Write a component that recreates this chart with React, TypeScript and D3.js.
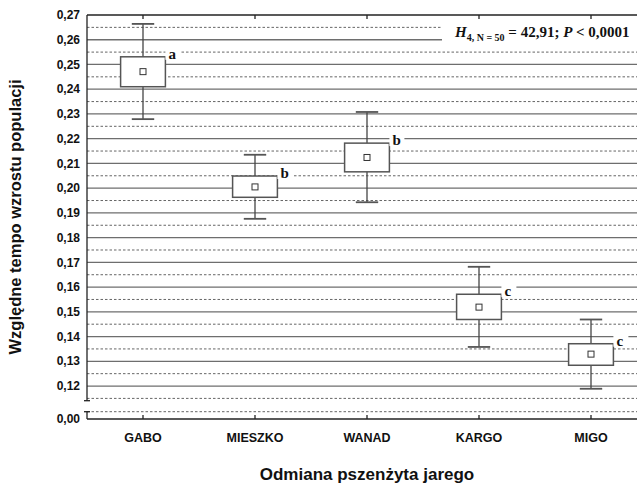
import * as d3 from 'd3';
import { useEffect, useRef } from 'react';

// varieties and box statistics (mean, box = mean ± SE, whiskers = mean ± SD)
const categories = ['GABO', 'MIESZKO', 'WANAD', 'KARGO', 'MIGO'];
const means = [0.2471, 0.2005, 0.2124, 0.1519, 0.1329];
const boxLow = [0.2410, 0.1963, 0.2066, 0.1469, 0.1284];
const boxHigh = [0.2531, 0.2049, 0.2182, 0.1571, 0.1371];
const whiskerLow = [0.2279, 0.1876, 0.1943, 0.1358, 0.1189];
const whiskerHigh = [0.2664, 0.2135, 0.2308, 0.1682, 0.1469];
const groups = ['a', 'b', 'b', 'c', 'c'];

const upperTicks = [0.12, 0.13, 0.14, 0.15, 0.16, 0.17, 0.18, 0.19, 0.2, 0.21, 0.22, 0.23, 0.24, 0.25, 0.26, 0.27];
const halfTicks = [0.115, 0.125, 0.135, 0.145, 0.155, 0.165, 0.175, 0.185, 0.195, 0.205, 0.215, 0.225, 0.235, 0.245, 0.255, 0.265];

function App() {
  const svgRef = useRef<SVGSVGElement>(null);

  useEffect(() => {
    const w = 637;
    const h = 484;
    const left = 87;
    const right = 647; // plot runs past the picture edge, as in the original
    const top = 15;
    const breakY = 400.7;
    const lowTop = 411.7;
    const bottom = 419;

    const svg = d3.select(svgRef.current);
    svg.selectAll('*').remove();
    svg.attr('width', w).attr('height', h);

    svg.append('rect').attr('width', w).attr('height', h).attr('fill', '#fff');

    const x = d3.scaleBand().domain(categories).range([left, right]);
    const y = d3.scaleLinear().domain([0.115, 0.27]).range([398.4, top]);
    const yLow = d3.scaleLinear().domain([0, 0.003]).range([bottom, lowTop]);
    const cx = (d: string) => (x(d) as number) + x.bandwidth() / 2;

    const sans = "'Liberation Sans', Arial, sans-serif";
    const serif = "'Liberation Serif', 'Times New Roman', serif";

    // grid
    const grid = svg.append('g');
    grid.selectAll('.solid')
      .data(upperTicks.slice(0, -1))
      .enter().append('line')
      .attr('x1', left).attr('x2', right)
      .attr('y1', d => y(d)).attr('y2', d => y(d))
      .attr('stroke', '#6e6e6e').attr('stroke-width', 1.3);
    grid.selectAll('.dash')
      .data(halfTicks)
      .enter().append('line')
      .attr('x1', left).attr('x2', right)
      .attr('y1', d => y(d)).attr('y2', d => y(d))
      .attr('stroke', '#666').attr('stroke-width', 1)
      .attr('stroke-dasharray', '2.5,2');
    grid.append('line')
      .attr('x1', left).attr('x2', right)
      .attr('y1', yLow(0.003)).attr('y2', yLow(0.003))
      .attr('stroke', '#666').attr('stroke-width', 1)
      .attr('stroke-dasharray', '2.5,2');

    // annotation background + text
    svg.append('rect').attr('x', 442).attr('y', 20).attr('width', 200).attr('height', 25).attr('fill', '#fff');
    const ann = svg.append('text')
      .attr('x', 455).attr('y', 37)
      .style('font-family', serif).style('font-weight', 'bold').style('font-size', '15px')
      .attr('fill', '#111');
    ann.append('tspan').style('font-style', 'italic').text('H');
    ann.append('tspan').attr('dy', 4).style('font-size', '10px').text('4, N = 50');
    ann.append('tspan').attr('dy', -4).text(' = 42,91; ');
    ann.append('tspan').style('font-style', 'italic').text('P');
    ann.append('tspan').text(' < 0,0001');

    // boxes
    const boxW = x.bandwidth() * 0.4;
    const capW = x.bandwidth() * 0.2;
    const boxes = svg.append('g');
    categories.forEach((c, i) => {
      const g = boxes.append('g');
      const xc = cx(c);
      g.append('line')
        .attr('x1', xc).attr('x2', xc)
        .attr('y1', y(whiskerHigh[i])).attr('y2', y(whiskerLow[i]))
        .attr('stroke', '#444').attr('stroke-width', 1.3);
      [whiskerHigh[i], whiskerLow[i]].forEach(v => {
        g.append('line')
          .attr('x1', xc - capW / 2).attr('x2', xc + capW / 2)
          .attr('y1', y(v)).attr('y2', y(v))
          .attr('stroke', '#555').attr('stroke-width', 1.8);
      });
      g.append('rect')
        .attr('x', xc - boxW / 2).attr('y', y(boxHigh[i]))
        .attr('width', boxW).attr('height', y(boxLow[i]) - y(boxHigh[i]))
        .attr('fill', '#fff').attr('stroke', '#555').attr('stroke-width', 1.5);
      g.append('rect')
        .attr('x', xc - 3).attr('y', y(means[i]) - 3)
        .attr('width', 6).attr('height', 6)
        .attr('fill', '#fff').attr('stroke', '#333').attr('stroke-width', 1);
      // group letter
      const lx = xc + boxW / 2 + 3;
      const ly = y(boxHigh[i]) + 2;
      g.append('rect')
        .attr('x', lx - 3).attr('y', ly - 11).attr('width', 15).attr('height', 12)
        .attr('fill', '#fff');
      g.append('text')
        .attr('x', lx).attr('y', ly)
        .style('font-family', serif).style('font-weight', 'bold').style('font-size', '15px')
        .attr('fill', '#111')
        .text(groups[i]);
    });

    // axes and frame
    const axis = svg.append('g').attr('stroke', '#222').attr('stroke-width', 1.3);
    axis.append('line').attr('x1', left).attr('x2', left).attr('y1', top).attr('y2', breakY);
    axis.append('line').attr('x1', left - 3).attr('x2', left + 3).attr('y1', breakY).attr('y2', breakY);
    axis.append('line').attr('x1', left).attr('x2', left).attr('y1', lowTop).attr('y2', bottom);
    axis.append('line').attr('x1', left - 3).attr('x2', left + 3).attr('y1', lowTop).attr('y2', lowTop);
    axis.append('line').attr('x1', left).attr('x2', right).attr('y1', bottom).attr('y2', bottom);
    axis.append('line').attr('x1', left).attr('x2', right).attr('y1', top).attr('y2', top);
    categories.forEach(c => {
      axis.append('line').attr('x1', cx(c)).attr('x2', cx(c)).attr('y1', bottom).attr('y2', bottom - 4);
      axis.append('line').attr('x1', cx(c)).attr('x2', cx(c)).attr('y1', top).attr('y2', top + 4);
    });

    // y tick labels
    const fmt = (v: number) => v.toFixed(2).replace('.', ',');
    svg.selectAll('.ylab')
      .data(upperTicks)
      .enter().append('text')
      .attr('x', 80).attr('y', d => y(d)).attr('dy', '0.35em')
      .attr('text-anchor', 'end')
      .style('font-family', sans).style('font-weight', 'bold').style('font-size', '12px')
      .attr('fill', '#111')
      .text(d => fmt(d));
    svg.append('text')
      .attr('x', 80).attr('y', yLow(0)).attr('dy', '0.35em')
      .attr('text-anchor', 'end')
      .style('font-family', sans).style('font-weight', 'bold').style('font-size', '12px')
      .attr('fill', '#111')
      .text(fmt(0));

    // category labels
    svg.selectAll('.xlab')
      .data(categories)
      .enter().append('text')
      .attr('x', d => cx(d)).attr('y', 442)
      .attr('text-anchor', 'middle')
      .style('font-family', sans).style('font-weight', 'bold').style('font-size', '12.5px')
      .attr('fill', '#111')
      .text(d => d);

    // axis titles
    svg.append('text')
      .attr('x', 367).attr('y', 480)
      .attr('text-anchor', 'middle')
      .style('font-family', sans).style('font-weight', 'bold').style('font-size', '17px')
      .attr('fill', '#111')
      .text('Odmiana pszenżyta jarego');
    svg.append('text')
      .attr('transform', 'translate(21,217) rotate(-90)')
      .attr('text-anchor', 'middle')
      .style('font-family', sans).style('font-weight', 'bold').style('font-size', '16.5px')
      .attr('fill', '#111')
      .text('Względne tempo wzrostu populacji');
  });

  return (
    <div>
      <svg ref={svgRef} style={{ position: 'absolute', left: 0, top: 0 }}></svg>
    </div>
  );
}

export default App;
